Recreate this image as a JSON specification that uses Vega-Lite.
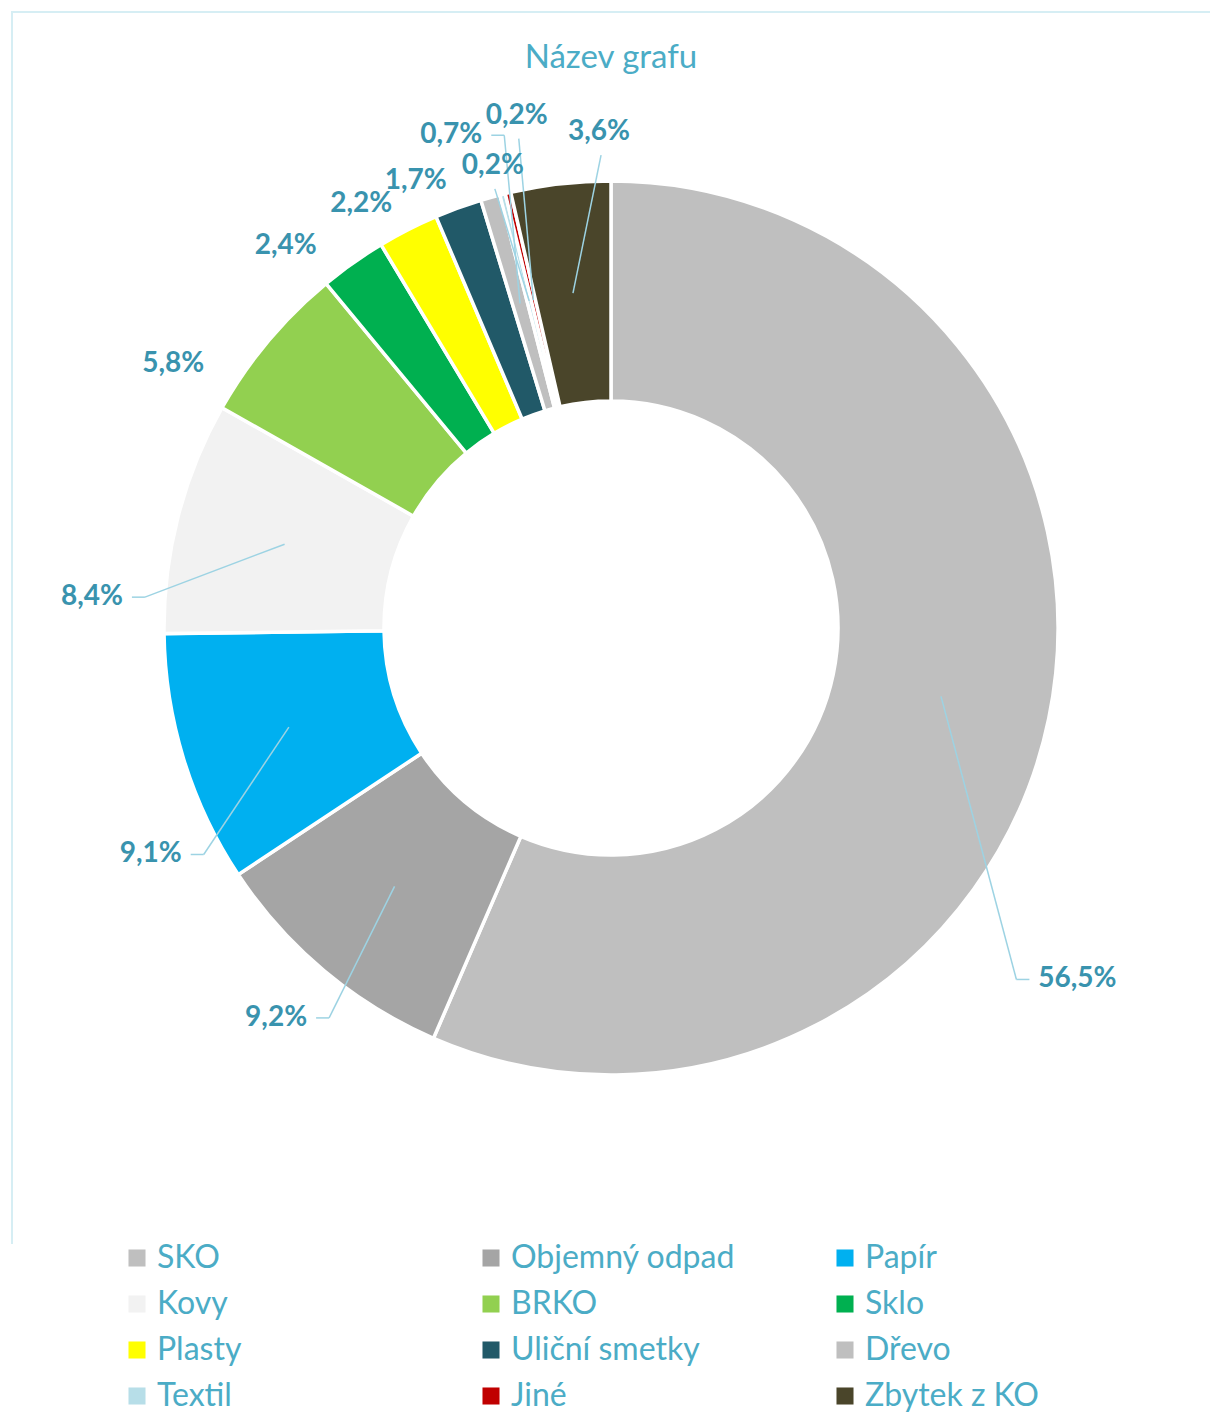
{
  "$schema": "https://vega.github.io/schema/vega-lite/v6.json",
  "width": 1198,
  "height": 1232,
  "autosize": {"type": "none"},
  "padding": {"left": 12, "top": 12, "right": 0, "bottom": 184},
  "background": "white",
  "config": {
    "view": {"stroke": "#D6EEF4", "strokeWidth": 2, "strokeDash": [1198, 2430, 1232]},
    "font": "Lato"
  },
  "title": {
    "text": "Název grafu",
    "font": "Lato",
    "fontSize": 33,
    "fontWeight": "normal",
    "color": "#4BACC6",
    "anchor": "middle",
    "offset": -63
  },
  "data": {
    "values": [
      {"ord": 1, "cat": "SKO", "value": 56.5},
      {"ord": 2, "cat": "Objemný odpad", "value": 9.2},
      {"ord": 3, "cat": "Papír", "value": 9.1},
      {"ord": 4, "cat": "Kovy", "value": 8.4},
      {"ord": 5, "cat": "BRKO", "value": 5.8},
      {"ord": 6, "cat": "Sklo", "value": 2.4},
      {"ord": 7, "cat": "Plasty", "value": 2.2},
      {"ord": 8, "cat": "Uliční smetky", "value": 1.7},
      {"ord": 9, "cat": "Dřevo", "value": 0.7},
      {"ord": 10, "cat": "Textil", "value": 0.2},
      {"ord": 11, "cat": "Jiné", "value": 0.2},
      {"ord": 12, "cat": "Zbytek z KO", "value": 3.6}
    ]
  },
  "transform": [
    {"window": [{"op": "sum", "field": "value", "as": "cum"}], "sort": [{"field": "ord"}]},
    {"joinaggregate": [{"op": "sum", "field": "value", "as": "total"}]},
    {"calculate": "2*PI*(datum.cum-datum.value/2)/datum.total", "as": "a"},
    {"calculate": "{'SKO':[25.3,584,1],'Objemný odpad':[0.7,514,1],'Papír':[-9.1,513,1],'Kovy':[-11,520,1],'BRKO':[-8.9,511,0],'Sklo':[-5.1,502,0],'Plasty':[-3.5,492,0],'Uliční smetky':[-3.6,488,0],'Dřevo':[-2.3,518,1],'Textil':[-0.3,477,1],'Jiné':[2.9,521,1],'Zbytek z KO':[5.1,496,1]}[datum.cat]", "as": "lp"},
    {"calculate": "datum.a+datum.lp[0]*PI/180", "as": "la"},
    {"calculate": "datum.lp[1]*sin(datum.la)", "as": "lx"},
    {"calculate": "datum.lp[1]*cos(datum.la)", "as": "ly"},
    {"calculate": "337*sin(datum.a)", "as": "sx"},
    {"calculate": "337*cos(datum.a)", "as": "sy"},
    {"calculate": "replace(format(datum.value,'.1f'),'.',',')+'%'", "as": "label"},
    {"calculate": "8*length(datum.label)", "as": "hw"},
    {"calculate": "abs(datum.lx-datum.sx)>45", "as": "side"},
    {"calculate": "datum.lx>datum.sx?-1:1", "as": "dir"},
    {"calculate": "datum.side?datum.lx+datum.dir*(datum.hw+21):datum.lx+2", "as": "ex"},
    {"calculate": "datum.side?datum.ly:datum.ly-23", "as": "ey"},
    {"calculate": "datum.lx+datum.dir*(datum.hw+8)", "as": "hx"}
  ],
  "layer": [
    {
      "mark": {"type": "arc", "innerRadius": 227, "outerRadius": 447, "stroke": "white", "strokeWidth": 3.5},
      "encoding": {
        "theta": {"field": "value", "type": "quantitative", "stack": true},
        "order": {"field": "ord", "type": "quantitative"},
        "color": {
          "field": "cat",
          "type": "nominal",
          "sort": null,
          "scale": {
            "domain": ["SKO", "Objemný odpad", "Papír", "Kovy", "BRKO", "Sklo", "Plasty", "Uliční smetky", "Dřevo", "Textil", "Jiné", "Zbytek z KO"],
            "range": ["#BFBFBF", "#A5A5A5", "#00B0F0", "#F2F2F2", "#92D050", "#00B050", "#FFFF00", "#215968", "#BFBFBF", "#B7DEE8", "#C00000", "#4A452A"]
          },
          "legend": {
            "title": null,
            "orient": "none",
            "direction": "horizontal",
            "legendX": 109,
            "legendY": 1230,
            "columns": 3,
            "gridAlign": "all",
            "columnPadding": 93,
            "rowPadding": 14,
            "padding": 0,
            "symbolType": "square",
            "symbolSize": 290,
            "symbolStrokeWidth": 0,
            "labelOffset": 4,
            "labelFont": "Lato",
            "labelFontSize": 32,
            "labelColor": "#4BACC6",
            "labelLimit": 400
          }
        }
      }
    },
    {
      "transform": [{"filter": "datum.lp[2]==1"}],
      "mark": {"type": "rule", "stroke": "#9DD3E3", "strokeWidth": 1.5},
      "encoding": {
        "x": {"field": "sx", "type": "quantitative", "axis": null, "scale": {"domain": [-599, 599], "nice": false, "zero": false}},
        "y": {"field": "sy", "type": "quantitative", "axis": null, "scale": {"domain": [-616, 616], "nice": false, "zero": false}},
        "x2": {"field": "ex"},
        "y2": {"field": "ey"}
      }
    },
    {
      "transform": [{"filter": "datum.lp[2]==1 && datum.side"}],
      "mark": {"type": "rule", "stroke": "#9DD3E3", "strokeWidth": 1.5},
      "encoding": {
        "x": {"field": "ex", "type": "quantitative"},
        "y": {"field": "ey", "type": "quantitative"},
        "x2": {"field": "hx"}
      }
    },
    {
      "mark": {"type": "text", "font": "Lato", "fontSize": 28, "fontWeight": "bold", "fill": "#3993AE", "align": "center", "baseline": "middle"},
      "encoding": {
        "x": {"field": "lx", "type": "quantitative"},
        "y": {"field": "ly", "type": "quantitative"},
        "text": {"field": "label"}
      }
    }
  ]
}
